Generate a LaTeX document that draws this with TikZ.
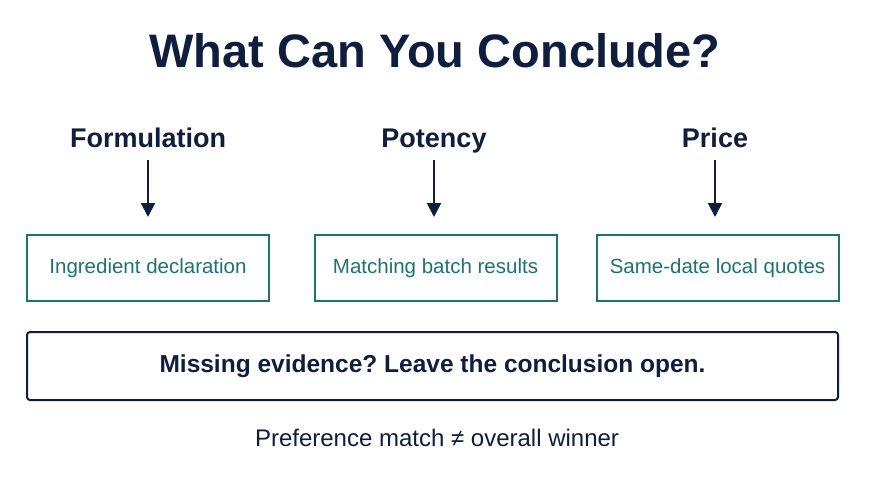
\documentclass[tikz,border=0pt]{standalone}
\usepackage{fontspec}
\setmainfont{Liberation Sans}
\usetikzlibrary{arrows.meta}
\definecolor{navy}{HTML}{0F1E3C}
\definecolor{teal}{HTML}{1E746C}
\frenchspacing
\begin{document}
\begin{tikzpicture}[x=1pt,y=-1pt,
  titletext/.style={font=\bfseries\fontsize{47}{56}\selectfont, text=navy, inner sep=0pt},
  headtext/.style={font=\bfseries\fontsize{27}{32}\selectfont, text=navy, inner sep=0pt, text height=20pt, text depth=0pt, anchor=base},
  evbox/.style={draw=teal, line width=2pt, minimum width=242pt, minimum height=66pt, inner sep=0pt, text=teal, font=\fontsize{20.5}{24}\selectfont},
  notebox/.style={draw=navy, line width=2pt, rounded corners=3pt, minimum width=811pt, minimum height=68pt, inner sep=0pt, text=navy, font=\bfseries\fontsize{24.5}{29}\selectfont},
  foot/.style={text=navy, font=\fontsize{24}{29}\selectfont, inner sep=0pt},
  arr/.style={draw=navy, line width=2pt, -{Triangle[length=14pt,width=14pt]}, shorten <=13pt, shorten >=17pt}]
\fill[white] (0,0) rectangle (870,480);
\useasboundingbox (0,0) rectangle (870,480);
\node[titletext] (title) at (435,51) {What Can You Conclude?};
\node[headtext] (h1) at (148,147) {Formulation};
\node[headtext] (h2) at (434,147) {Potency};
\node[headtext] (h3) at (715,147) {Price};
\node[evbox] (b1) at (148,268) {Ingredient declaration};
\node[evbox] (b2) at (435.5,268) {Matching batch results};
\node[evbox] (b3) at (717.5,268) {Same-date local quotes};
\draw[arr] (h1.south) -- (h1.south |- b1.north);
\draw[arr] (h2.south) -- (h2.south |- b2.north);
\draw[arr] (h3.south) -- (h3.south |- b3.north);
\node[notebox] (note) at (432.5,366) {Missing evidence? Leave the conclusion open.};
\node[foot] (footer) at (437,438) {Preference match ≠ overall winner};
\end{tikzpicture}
\end{document}
